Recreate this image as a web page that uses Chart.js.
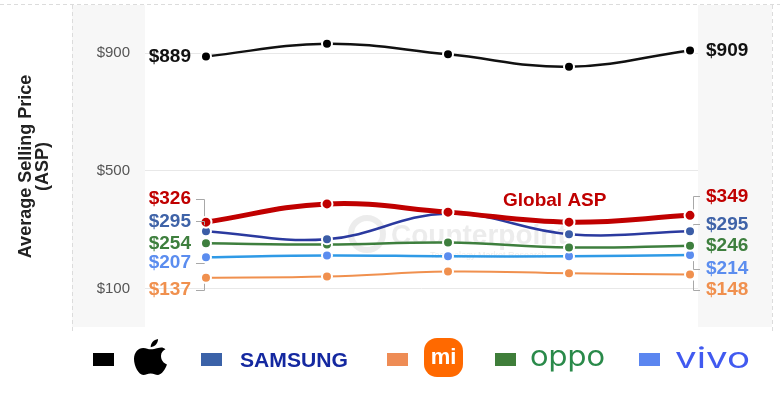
<!DOCTYPE html>
<html>
<head>
<meta charset="utf-8">
<script src="https://cdn.jsdelivr.net/npm/chart.js@4.4.1/dist/chart.umd.min.js"></script>
<style>
  html, body { margin: 0; padding: 0; background: #fff; }
  canvas { display: block; }
</style>
</head>
<body>
<canvas id="chart" width="780" height="395" style="width:780px;height:395px"></canvas>
<script>
// values (USD)
const categories = ['P1', 'P2', 'P3', 'P4', 'P5'];
const tickValues = [100, 500, 900];
const apple = [889, 932, 896, 854, 909];
const globalAsp = [326, 388, 360, 326, 349];
const samsung = [295, 268, 355, 285, 295];
const oppo = [254, 250, 257, 240, 246];
const vivo = [207, 213, 210, 210, 214];
const xiaomi = [137, 141, 158, 152, 148];

const FONT = '"Liberation Sans", Arial, sans-serif';

// look of each line + where its end labels sit (nudge from the point, px)
const styles = {
  global:  { line: '#c00000', point: '#c00000', text: '#c00000', width: 5, radius: 5.5, nudgeL: -23, nudgeR: -19 },
  apple:   { line: '#111111', point: '#000000', text: '#111111', width: 2.5, radius: 5, nudgeL: 0, nudgeR: 0 },
  samsung: { line: '#2b3a9f', point: '#3b5da6', text: '#3f63a8', width: 2.5, radius: 5, nudgeL: -10, nudgeR: -7 },
  oppo:    { line: '#3e7f3e', point: '#3e7f3e', text: '#3e7f3e', width: 2.5, radius: 5, nudgeL: 0, nudgeR: 0 },
  vivo:    { line: '#2f9ae6', point: '#5b8def', text: '#5b8def', width: 2.5, radius: 5, nudgeL: 6, nudgeR: 14 },
  xiaomi:  { line: '#f0904e', point: '#f0904e', text: '#f0904e', width: 2, radius: 5, nudgeL: 12, nudgeR: 15 }
};

function series(key, label, values, order) {
  const s = styles[key];
  return {
    key: key,
    label: label,
    data: values.map((v, i) => ({ x: i, y: v })),
    borderColor: s.line,
    borderWidth: s.width,
    pointBackgroundColor: s.point,
    pointBorderColor: '#ffffff',
    pointBorderWidth: 2,
    pointRadius: s.radius,
    tension: 0.4,
    order: order
  };
}

const watermark = {
  id: 'panels',
  beforeDraw(chart) {
    const c = chart.ctx;
    c.save();
    c.fillStyle = '#ffffff';
    c.fillRect(0, 0, chart.width, chart.height);
    // grey side panels
    c.fillStyle = '#f7f7f7';
    c.fillRect(72, 5, 73, 322);
    c.fillRect(698, 5, 74, 322);
    c.strokeStyle = '#dcdcdc';
    c.lineWidth = 1;
    c.setLineDash([4, 3]);
    c.beginPath();
    c.moveTo(0, 4.5); c.lineTo(780, 4.5);
    c.moveTo(72.5, 5); c.lineTo(72.5, 332);
    c.moveTo(772.5, 5); c.lineTo(772.5, 332);
    c.stroke();
    c.restore();
  },
  beforeDatasetsDraw(chart) {
    const c = chart.ctx;
    c.save();
    c.globalAlpha = 0.35;
    c.strokeStyle = '#c8c8c8';
    c.lineWidth = 6;
    c.beginPath();
    c.arc(367, 234, 16, 0, Math.PI * 2);
    c.stroke();
    c.fillStyle = '#c8c8c8';
    c.font = 'bold 28px ' + FONT;
    c.textBaseline = 'alphabetic';
    c.fillText('Counterpoint', 391, 244);
    c.font = '9px ' + FONT;
    c.fillText('Technology Market Research', 430, 258);
    c.restore();
  }
};

const endLabels = {
  id: 'endLabels',
  afterDatasetsDraw(chart) {
    const c = chart.ctx;
    c.save();
    c.font = 'bold 19px ' + FONT;
    c.textBaseline = 'middle';
    c.strokeStyle = '#a8a8a8';
    c.lineWidth = 1;
    chart.data.datasets.forEach((ds, di) => {
      const s = styles[ds.key];
      const pts = chart.getDatasetMeta(di).data;
      const first = pts[0], last = pts[pts.length - 1];
      const v0 = ds.data[0].y, v1 = ds.data[ds.data.length - 1].y;
      // left
      let ly = first.y + s.nudgeL;
      c.fillStyle = s.text;
      c.textAlign = 'right';
      c.fillText('$' + v0, first.x - 15, ly);
      if (s.nudgeL !== 0) {
        const end = first.y + (s.nudgeL < 0 ? -6 : 6);
        c.beginPath();
        c.moveTo(first.x - 10, Math.round(ly) + 0.5);
        c.lineTo(Math.round(first.x - 2) + 0.5, Math.round(ly) + 0.5);
        c.lineTo(Math.round(first.x - 2) + 0.5, end);
        c.stroke();
      }
      // right
      let ry = last.y + s.nudgeR;
      c.textAlign = 'left';
      c.fillText('$' + v1, last.x + 16, ry);
      if (s.nudgeR !== 0) {
        const start = last.y + (s.nudgeR < 0 ? -6 : 6);
        c.beginPath();
        c.moveTo(Math.round(last.x + 3) + 0.5, start);
        c.lineTo(Math.round(last.x + 3) + 0.5, Math.round(ry) + 0.5);
        c.lineTo(last.x + 10, Math.round(ry) + 0.5);
        c.stroke();
      }
      if (ds.key === 'global') {
        const p = pts[3];
        c.textAlign = 'left';
        c.fillText(ds.label, p.x - 66, p.y - 21);
      }
    });
    c.restore();
  }
};

function fitText(c, text, x, baseline, width) {
  const w = c.measureText(text).width;
  c.save();
  c.translate(x, baseline);
  c.scale(width / w, 1);
  c.fillText(text, 0, 0);
  c.restore();
}

const brandLegend = {
  id: 'brandLegend',
  afterDraw(chart) {
    const c = chart.ctx;
    c.save();
    const swatches = [['#000000', 93], ['#3b62a8', 201], ['#ee8c55', 387], ['#3f7e3a', 495], ['#5b86f0', 639]];
    swatches.forEach(([col, x]) => { c.fillStyle = col; c.fillRect(x, 353, 21, 13); });

    // apple mark
    c.save();
    c.translate(134 - 5 * 0.37, 339 - 0.37);
    c.scale(0.37, 0.37);
    c.fillStyle = '#000';
    c.beginPath();
    c.moveTo(50, 29);
    c.bezierCurveTo(44, 29, 38, 25, 30, 25);
    c.bezierCurveTo(16, 25, 5, 37, 5, 55);
    c.bezierCurveTo(5, 75, 18, 98, 30, 98);
    c.bezierCurveTo(38, 98, 41, 94, 50, 94);
    c.bezierCurveTo(59, 94, 62, 98, 70, 98);
    c.bezierCurveTo(80, 98, 90, 82, 94, 70);
    c.bezierCurveTo(84, 66, 78, 57, 78, 47);
    c.bezierCurveTo(78, 38, 84, 32, 90, 29);
    c.bezierCurveTo(84, 22, 76, 24, 70, 25);
    c.bezierCurveTo(62, 26, 56, 29, 50, 29);
    c.closePath();
    c.fill();
    c.beginPath();
    c.moveTo(50, 23);
    c.bezierCurveTo(50, 12, 58, 3, 70, 1);
    c.bezierCurveTo(70, 12, 62, 22, 50, 23);
    c.closePath();
    c.fill();
    c.restore();

    // samsung word mark
    c.fillStyle = '#1428a0';
    c.font = 'bold 21px ' + FONT;
    c.textBaseline = 'alphabetic';
    c.textAlign = 'left';
    fitText(c, 'SAMSUNG', 240, 367, 108);

    // mi badge
    c.fillStyle = '#ff6900';
    c.beginPath();
    c.roundRect(424, 338, 39, 39, 13);
    c.fill();
    c.fillStyle = '#ffffff';
    c.font = 'bold 22px ' + FONT;
    c.textAlign = 'center';
    c.textBaseline = 'middle';
    c.fillText('mi', 443.5, 358);

    // oppo / vivo
    c.textAlign = 'left';
    c.textBaseline = 'alphabetic';
    c.font = '400 28px Inter, "Noto Sans", sans-serif';
    c.fillStyle = '#2a8a4a';
    fitText(c, 'oppo', 530, 366, 75);
    c.fillStyle = '#415af0';
    fitText(c, 'vivo', 675, 368, 75);
    c.restore();
  }
};

new Chart(document.getElementById('chart'), {
  type: 'line',
  data: {
    labels: categories,
    datasets: [
      series('global', 'Global ASP', globalAsp, 0),
      series('apple', 'Apple', apple, 1),
      series('samsung', 'Samsung', samsung, 2),
      series('oppo', 'OPPO', oppo, 3),
      series('vivo', 'vivo', vivo, 4),
      series('xiaomi', 'Xiaomi', xiaomi, 5)
    ]
  },
  options: {
    responsive: false,
    animation: false,
    layout: { padding: { top: 9, bottom: 71, right: 82, left: 0 } },
    plugins: { legend: { display: false }, tooltip: { enabled: false } },
    scales: {
      x: { type: 'linear', display: false, min: -0.504, max: 4.066 },
      y: {
        min: -20,
        max: 1050,
        afterFit: s => { s.width = 145; s.paddingTop = 0; s.paddingBottom = 0; },
        afterBuildTicks: s => { s.ticks = tickValues.map(v => ({ value: v })); },
        ticks: { callback: v => '$' + v, padding: 15, color: '#555', font: { family: FONT, size: 15 } },
        grid: { color: '#e8e8e8', drawTicks: false },
        border: { display: false },
        title: {
          display: true,
          text: ['Average Selling Price', '(ASP)'],
          color: '#222',
          font: { family: FONT, size: 18, weight: 'bold', lineHeight: 0.95 },
          padding: { top: 17, bottom: 0 }
        }
      }
    }
  },
  plugins: [watermark, endLabels, brandLegend]
});
</script>
</body>
</html>
